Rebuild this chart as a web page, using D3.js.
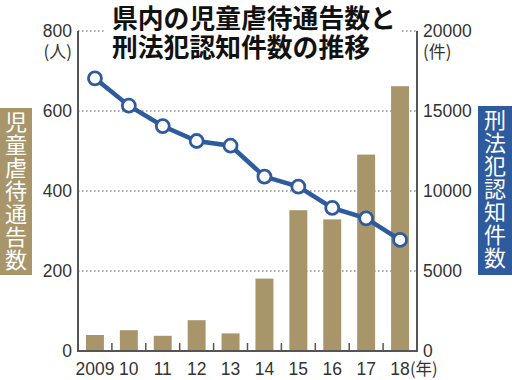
<!DOCTYPE html>
<html>
<head>
<meta charset="utf-8">
<script src="https://cdn.jsdelivr.net/npm/d3@7"></script>
<style>
  body { margin: 0; background: #fff; }
  text { font-family: "Liberation Sans", "Noto Sans CJK JP", sans-serif; }
</style>
</head>
<body>
<div id="chart"></div>
<script>
const years = ["2009", "10", "11", "12", "13", "14", "15", "16", "17", "18"];
const abuseReports = [40, 52, 38, 77, 44, 181, 352, 329, 491, 662];
const crimeCounts = [17040, 15330, 14060, 13125, 12830, 10900, 10270, 8940, 8290, 6940];
const leftTicks = [0, 200, 400, 600, 800];
const rightTicks = [0, 5000, 10000, 15000, 20000];

const width = 512, height = 380;
const margin = {top: 31, right: 95, bottom: 29, left: 78};
const innerW = width - margin.left - margin.right;
const innerH = height - margin.top - margin.bottom;

const tan = "#a8966a", blue = "#2e5b9e", textCol = "#333";
const jp = "'Noto Sans CJK JP', sans-serif";

const svg = d3.select("#chart")
    .append("svg")
    .attr("width", width)
    .attr("height", height);

const g = svg.append("g")
    .attr("transform", `translate(${margin.left},${margin.top})`);

// scales
const x = d3.scaleBand().domain(years).range([0, innerW]).paddingInner(0.47).paddingOuter(0.235);
const xStep = d3.scaleBand().domain(years).range([0, innerW]);
const yL = d3.scaleLinear().domain([0, 800]).range([innerH, 0]);
const yR = d3.scaleLinear().domain([0, 20000]).range([innerH, 0]);

// dotted grid lines
g.selectAll(".grid")
    .data(leftTicks.filter(d => d > 0))
    .join("line")
    .attr("x1", 0).attr("x2", innerW)
    .attr("y1", d => yL(d)).attr("y2", d => yL(d))
    .attr("stroke", "#888")
    .attr("stroke-width", 1.3)
    .attr("stroke-dasharray", "1.5 2.5");

// bars
g.selectAll(".bar")
    .data(abuseReports)
    .join("rect")
    .attr("x", (d, i) => x(years[i]))
    .attr("width", x.bandwidth())
    .attr("y", d => yL(d))
    .attr("height", d => innerH - yL(d))
    .attr("fill", tan);

// axes lines
const axisCol = "#555";
g.append("line").attr("x1", 0).attr("x2", 0).attr("y1", 0).attr("y2", innerH)
    .attr("stroke", axisCol).attr("stroke-width", 2);
g.append("line").attr("x1", innerW).attr("x2", innerW).attr("y1", 0).attr("y2", innerH)
    .attr("stroke", axisCol).attr("stroke-width", 2);
g.append("line").attr("x1", -1).attr("x2", innerW + 1).attr("y1", innerH).attr("y2", innerH)
    .attr("stroke", axisCol).attr("stroke-width", 2);

// x ticks between years (pointing up)
g.selectAll(".xtick")
    .data(years.slice(1))
    .join("line")
    .attr("x1", d => xStep(d)).attr("x2", d => xStep(d))
    .attr("y1", innerH).attr("y2", innerH - 8)
    .attr("stroke", axisCol).attr("stroke-width", 1.5);

// left tick labels
g.selectAll(".ly")
    .data(leftTicks)
    .join("text")
    .attr("x", -6)
    .attr("y", d => yL(d) + 6)
    .attr("text-anchor", "end")
    .attr("font-size", 17.5)
    .attr("fill", textCol)
    .text(d => d);

// right tick labels
g.selectAll(".ry")
    .data(rightTicks)
    .join("text")
    .attr("x", innerW + 6)
    .attr("y", d => yR(d) + 6)
    .attr("text-anchor", "start")
    .attr("font-size", 17.5)
    .attr("fill", textCol)
    .text(d => d);

// units
g.append("text").attr("x", -6).attr("y", yL(800) + 27)
    .attr("text-anchor", "end").attr("font-size", 17).attr("fill", textCol)
    .style("font-family", jp).text("(人)");
g.append("text").attr("x", innerW + 6).attr("y", yR(20000) + 27)
    .attr("text-anchor", "start").attr("font-size", 17).attr("fill", textCol)
    .style("font-family", jp).text("(件)");

// x labels
g.selectAll(".xl")
    .data(years)
    .join("text")
    .attr("x", d => x(d) + x.bandwidth() / 2)
    .attr("y", innerH + 24)
    .attr("text-anchor", "middle")
    .attr("font-size", 17.5)
    .attr("fill", textCol)
    .text(d => d);
g.append("text")
    .attr("x", x("18") + x.bandwidth() / 2 + 10)
    .attr("y", innerH + 24)
    .attr("font-size", 16.5)
    .attr("fill", textCol)
    .style("font-family", jp)
    .text("(年)");

// line
const line = d3.line()
    .x((d, i) => x(years[i]) + x.bandwidth() / 2)
    .y(d => yR(d));

g.append("path")
    .datum(crimeCounts)
    .attr("fill", "none")
    .attr("stroke", blue)
    .attr("stroke-width", 4.5)
    .attr("d", line);

g.selectAll(".pt")
    .data(crimeCounts)
    .join("circle")
    .attr("cx", (d, i) => x(years[i]) + x.bandwidth() / 2)
    .attr("cy", d => yR(d))
    .attr("r", 6.5)
    .attr("fill", "#fff")
    .attr("stroke", blue)
    .attr("stroke-width", 2.8);

// title with white background
const title = svg.append("g");
const titleBg = title.append("rect").attr("fill", "#fff");
title.append("text")
    .attr("x", 112).attr("y", 28)
    .attr("font-size", 25.8).attr("font-weight", "bold")
    .style("font-family", jp).attr("fill", "#111")
    .text("県内の児童虐待通告数と");
title.append("text")
    .attr("x", 112).attr("y", 57)
    .attr("font-size", 25.8).attr("font-weight", "bold")
    .style("font-family", jp).attr("fill", "#111")
    .text("刑法犯認知件数の推移");
const tb = title.node().getBBox();
titleBg.attr("x", tb.x - 6).attr("y", Math.max(0, tb.y)).attr("width", tb.width + 12).attr("height", tb.height);

// vertical side labels
function sideLabel(label, x0, y0, w, h, fill) {
    svg.append("rect").attr("x", x0).attr("y", y0).attr("width", w).attr("height", h).attr("fill", fill);
    svg.append("text")
        .attr("x", x0 + w / 2)
        .attr("y", y0 + 3)
        .attr("font-size", 22)
        .attr("letter-spacing", 1)
        .attr("fill", "#fff")
        .style("font-family", jp)
        .style("writing-mode", "vertical-rl")
        .text(label);
}
sideLabel("児童虐待通告数", 0, 108, 32, 167, tan);
sideLabel("刑法犯認知件数", 478, 106, 34, 169, blue);
</script>
</body>
</html>
